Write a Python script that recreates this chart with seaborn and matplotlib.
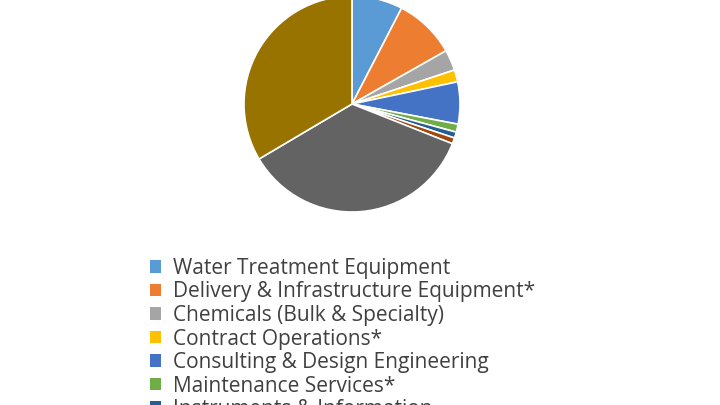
import matplotlib
matplotlib.use("Agg")
import matplotlib.pyplot as plt
import seaborn as sns
from matplotlib.patches import Patch

sns.set_theme(style="white")

categories = ["Water Treatment Equipment", "Delivery & Infrastructure Equipment*",
              "Chemicals (Bulk & Specialty)", "Contract Operations*",
              "Consulting & Design Engineering", "Maintenance Services*",
              "Instruments & Information", "Laboratory Services",
              "Water Utilities", "Wastewater Utilities"]
shares = [7.6, 9.2, 3.1, 1.8, 6.3, 1.2, 0.9, 0.9, 35.5, 33.5]
colors = ["#5B9BD5", "#ED7D31", "#A5A5A5", "#FFC000", "#4472C4", "#70AD47",
          "#255E91", "#9E480E", "#636363", "#997300"]

W, H = 720, 405
fig = plt.figure(figsize=(7.2, 4.05), dpi=100)
cx, cy, r = 352, 104, 108
ax = fig.add_axes([(cx - r) / W, (H - cy - r) / H, 2 * r / W, 2 * r / H])
ax.pie(shares, colors=colors, startangle=90, counterclock=False,
       wedgeprops=dict(edgecolor="white", linewidth=1.2))
ax.set_aspect("equal")
ax.set_xlim(-1, 1); ax.set_ylim(-1, 1)
ax.axis("off")

handles = [Patch(facecolor=c, edgecolor="none") for c in colors]
leg = fig.legend(handles, categories, loc="upper left",
                 bbox_to_anchor=(150 / W, 1 - 258 / H), frameon=False,
                 prop=dict(family="Open Sans", size=15),
                 handlelength=0.55, handleheight=0.55, handletextpad=0.55,
                 labelspacing=0.12, borderaxespad=0, borderpad=0)
for t in leg.get_texts():
    t.set_color("#404040")

fig.savefig("out.png", dpi=100)
